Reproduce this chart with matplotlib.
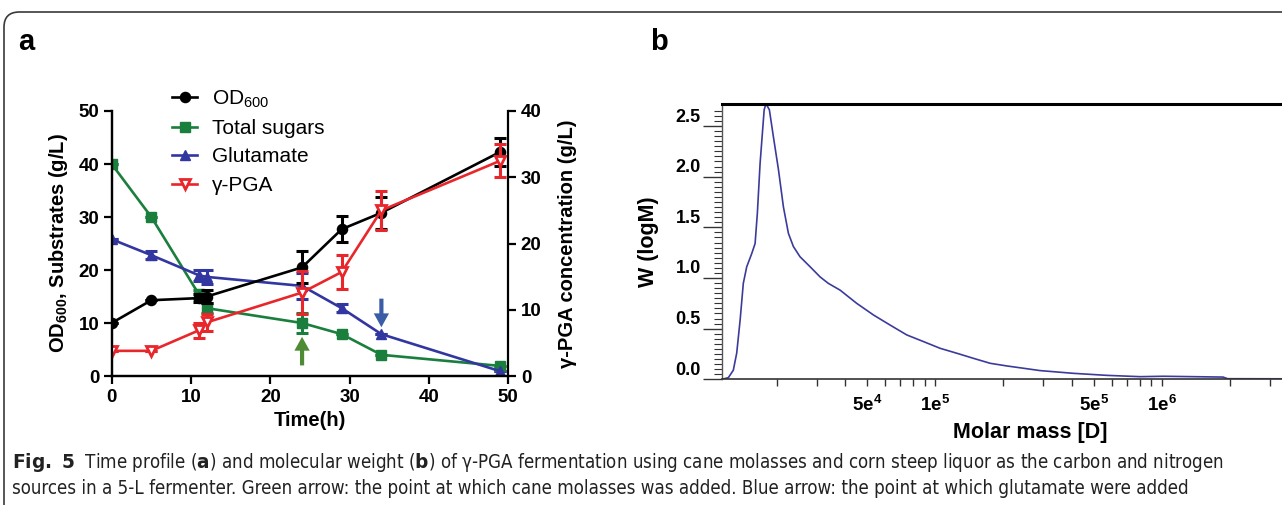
import numpy as np
import matplotlib
matplotlib.use('Agg')
import matplotlib.pyplot as plt
from matplotlib import font_manager as fm
from matplotlib.patches import FancyBboxPatch
from matplotlib.transforms import ScaledTranslation

plt.rcParams['font.family'] = ['Liberation Sans', 'DejaVu Sans']
plt.rcParams['mathtext.default'] = 'regular'

names = {f.name for f in fm.fontManager.ttflist}
cap_font = 'Liberation Sans Narrow' if 'Liberation Sans Narrow' in names else 'DejaVu Sans'
plt.rcParams['mathtext.fontset'] = 'custom'
plt.rcParams['mathtext.bf'] = cap_font + ':bold'

# panel a: fermentation time course
time = [0, 5, 11, 12, 24, 29, 34, 49]
od600 = [10.0, 14.3, 14.7, 15.0, 20.5, 27.7, 30.8, 42.3]
od600_err = [0, 0, 0.8, 1.2, 3.0, 2.5, 3.0, 2.7]
sugars = [40.0, 30.0, 15.4, 12.8, 10.0, 7.9, 4.0, 1.9]
sugars_err = [0, 0, 0.8, 1.0, 1.9, 0, 0, 0]
glutamate = [25.8, 22.8, 19.0, 18.7, 17.0, 12.8, 7.9, 0.9]
glutamate_err = [0, 0.8, 1.0, 1.3, 2.5, 0.8, 0, 0]
pga = [3.8, 3.8, 6.9, 8.1, 12.6, 15.7, 25.0, 32.5]
pga_err = [0, 0, 1.1, 1.3, 3.2, 2.6, 3.0, 2.5]

# feeding arrows (time, from, to) in left-axis units
green_arrow = (24, 2.0, 7.4)
blue_arrow = (34, 14.6, 9.2)

# panel b: molecular weight distribution
log_mass = [4.059, 4.088, 4.110, 4.125, 4.140, 4.154, 4.169, 4.191, 4.206, 4.216,
            4.228, 4.246, 4.254, 4.269, 4.287, 4.309, 4.331, 4.353, 4.375, 4.404,
            4.449, 4.493, 4.529, 4.581, 4.654, 4.728, 4.801, 4.875, 4.949, 5.022,
            5.096, 5.169, 5.243, 5.316, 5.390, 5.463, 5.610, 5.757, 5.904, 6.007,
            6.27, 6.29, 6.53]
w_logm = [0.0, 0.016, 0.09, 0.26, 0.585, 0.947, 1.11, 1.24, 1.34, 1.64,
          2.13, 2.66, 2.72, 2.66, 2.39, 2.07, 1.70, 1.44, 1.31, 1.21,
          1.11, 1.01, 0.947, 0.88, 0.75, 0.635, 0.536, 0.438, 0.372, 0.306,
          0.257, 0.207, 0.158, 0.132, 0.109, 0.086, 0.059, 0.039, 0.026, 0.030,
          0.022, 0.006, 0.005]

black, green, blue, red = '#000000', '#1a7f3c', '#3236a0', '#e8262b'

fig = plt.figure(figsize=(12.82, 5.05), dpi=100)

# rounded frame of the figure panel
frame = FancyBboxPatch((4 / 1282, -0.2), 1.2, 1.2 - 12 / 505,
                       boxstyle='round,pad=0,rounding_size=0.012',
                       transform=fig.transFigure, fill=False,
                       edgecolor='#3a3a3a', linewidth=1.2, mutation_aspect=2.5)
fig.patches.append(frame)

fig.text(18 / 1282, 1 - 42 / 505, 'a', fontsize=21, fontweight='bold', va='center')
fig.text(650 / 1282, 1 - 42 / 505, 'b', fontsize=21, fontweight='bold', va='center')

# ---- panel a ----
ax = fig.add_axes([0.0871, 0.2554, 0.3094, 0.5248])
ax2 = ax.twinx()

lw, ms = 1.9, 7.3
ekw = dict(fmt='none', elinewidth=2.2, capsize=4.5, capthick=2.2)
ax.errorbar(time, sugars, yerr=sugars_err, ecolor=green, **ekw)
ax.errorbar(time, glutamate, yerr=glutamate_err, ecolor=blue, **ekw)
h_sug, = ax.plot(time, sugars, '-s', color=green, lw=lw, ms=ms, label='Total sugars')
h_glu, = ax.plot(time, glutamate, '-^', color=blue, lw=lw, ms=ms, label='Glutamate')
ax.errorbar(time, od600, yerr=od600_err, ecolor=black, **ekw)
h_od, = ax.plot(time, od600, '-o', color=black, lw=lw, ms=ms, label='OD$_{600}$')

ax2.errorbar(time, pga, yerr=pga_err, ecolor=red, **ekw)
h_pga, = ax2.plot(time, pga, '-v', color=red, lw=lw, ms=ms, mfc='white', mew=2,
                  label='γ-PGA')

for (x, y0, y1), c in [(green_arrow, '#4f8a35'), (blue_arrow, '#3a5da6')]:
    ax.annotate('', xy=(x, y1), xytext=(x, y0),
                arrowprops=dict(width=3, headwidth=11, headlength=10, color=c, lw=0))

ax.set_xlim(0, 50)
ax.set_ylim(0, 50)
ax2.set_ylim(0, 40)
ax.set_xticks(range(0, 51, 10))
ax.set_yticks(range(0, 51, 10))
ax2.set_yticks(range(0, 41, 10))
for a in (ax, ax2):
    a.tick_params(direction='out', length=6, width=1.6, labelsize=13.5, pad=3)
    for s in a.spines.values():
        s.set_linewidth(1.6)
    a.spines['top'].set_visible(False)
    for lab in a.get_xticklabels() + a.get_yticklabels():
        lab.set_fontweight('bold')
ax.spines['right'].set_visible(False)

ax.set_xlabel('Time(h)', fontsize=14.5, fontweight='bold', labelpad=4)
ax.set_ylabel('OD$_{600}$, Substrates (g/L)', fontsize=14.5, fontweight='bold', labelpad=6)
ax2.set_ylabel('γ-PGA concentration (g/L)', fontsize=14.5, fontweight='bold', labelpad=12)

fig.legend([h_od, h_sug, h_glu, h_pga], ['OD$_{600}$', 'Total sugars', 'Glutamate', 'γ-PGA'],
           loc='upper left', bbox_to_anchor=(162 / 1282, 1 - 78 / 505), frameon=False,
           fontsize=15, handlelength=1.2, handletextpad=0.7, labelspacing=0.45,
           borderpad=0)

# ---- panel b ----
axb = fig.add_axes([0.563, 0.2489, 0.437, 0.5451])
axb.plot(10 ** np.array(log_mass), w_logm, color='#3b3b9c', lw=1.2)
axb.set_xscale('log')
axb.set_xlim(10 ** 4.059, 10 ** 6.53)
axb.set_ylim(0, 2.717)

tick_pos = [m * 10 ** e for e in (4, 5, 6) for m in range(1, 10)]
tick_pos = [t for t in tick_pos if 10 ** 4.059 < t < 10 ** 6.53]
lab_map = {5e4: '5e$^4$', 1e5: '1e$^5$', 5e5: '5e$^5$', 1e6: '1e$^6$'}
axb.set_xticks(tick_pos)
axb.set_xticklabels([lab_map.get(t, '') for t in tick_pos])
axb.xaxis.set_minor_locator(matplotlib.ticker.NullLocator())
axb.set_yticks(np.arange(0, 2.6, 0.5))
axb.set_yticklabels(['0.0', '0.5', '1.0', '1.5', '2.0', '2.5'])
axb.set_yticks(np.arange(0, 2.7, 0.05), minor=True)
axb.tick_params(axis='x', direction='out', length=5, width=1.0, labelsize=13.5, pad=6,
                color='#333333')
axb.tick_params(axis='y', which='major', direction='out', length=14, width=1.0,
                labelsize=13, pad=1, color='#333333')
axb.tick_params(axis='y', which='minor', direction='out', length=6, width=0.8,
                color='#333333')
for lab in axb.get_xticklabels() + axb.get_yticklabels():
    lab.set_fontweight('bold')
for lab in axb.get_yticklabels():
    lab.set_transform(lab.get_transform() + ScaledTranslation(0, 11 / 100, fig.dpi_scale_trans))
axb.spines['right'].set_visible(False)
axb.spines['top'].set_linewidth(2.2)
axb.spines['left'].set_linewidth(1.0)
axb.spines['bottom'].set_linewidth(1.2)
axb.spines['left'].set_color('#555555')
axb.spines['bottom'].set_color('#333333')
axb.set_xlabel('Molar mass [D]', fontsize=15.5, fontweight='bold')
axb.xaxis.set_label_coords((1030 - 721.7) / (1282 - 721.7), -0.155)
axb.set_ylabel('W (logM)', fontsize=15.5, fontweight='bold', labelpad=12)

# ---- caption ----
cap1 = (r'$\mathbf{Fig.\ 5}$  Time profile ($\mathbf{a}$) and molecular weight ($\mathbf{b}$) '
        'of γ-PGA fermentation using cane molasses and corn steep liquor as the carbon and nitrogen')
cap2 = ('sources in a 5-L fermenter. Green arrow: the point at which cane molasses was added. '
        'Blue arrow: the point at which glutamate were added')
cap_kw = dict(fontsize=13.4, family=[cap_font, 'DejaVu Sans'], color='#222222', va='baseline')
if cap_font == 'DejaVu Sans':
    cap_kw['fontstretch'] = 'condensed'
fig.text(12 / 1282, 1 - 468 / 505, cap1, **cap_kw)
fig.text(12 / 1282, 1 - 494 / 505, cap2, **cap_kw)

fig.savefig('out.png', dpi=100)
